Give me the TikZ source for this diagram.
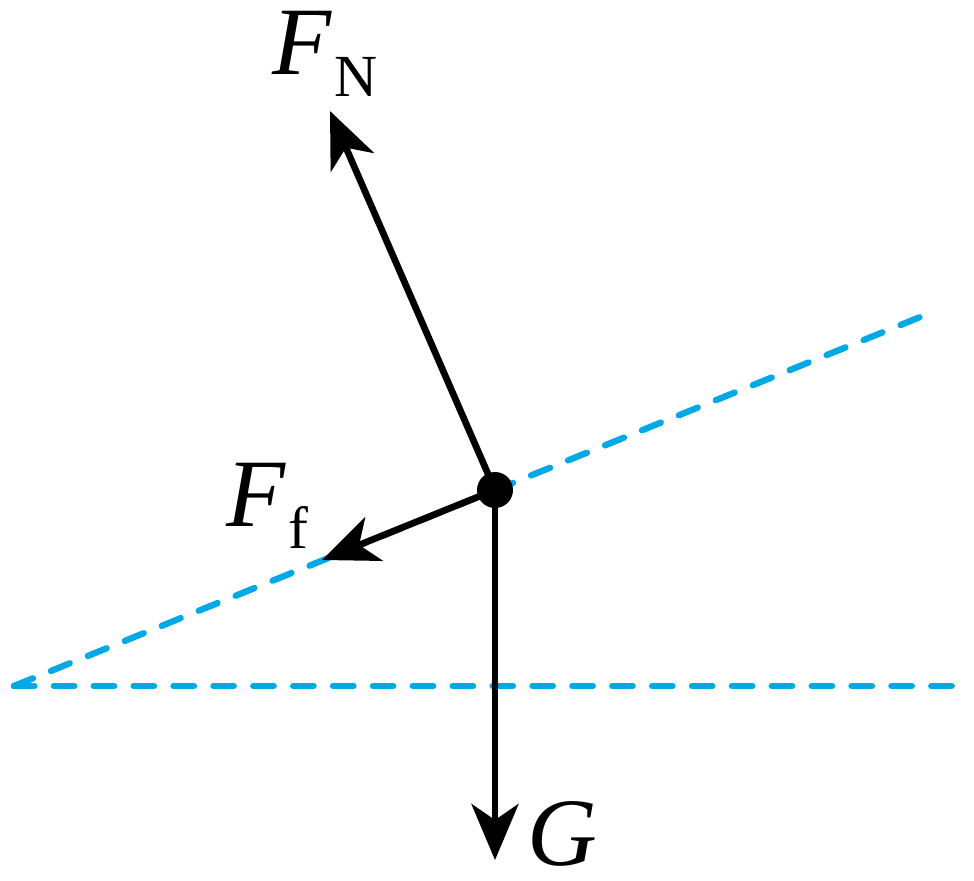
\documentclass[tikz,border=0pt]{standalone}
\usepackage{fontspec}
\setmainfont{Liberation Serif}
\usetikzlibrary{arrows.meta}
\definecolor{incl}{RGB}{0,169,230}
\tikzset{
  force/.style={line width=3.8pt, -{Stealth[length=1.12cm, width=0.94cm, inset=0.32cm]}},
  guide/.style={incl, line width=3.6pt, line cap=round, dash pattern=on 11.6pt off 11.1pt},
  lbl/.style={inner sep=0pt, font=\fontsize{55}{60}\selectfont},
}
\newcommand{\subsc}[1]{\raisebox{-13pt}{\fontsize{34}{36}\selectfont #1}}
\begin{document}
\begin{tikzpicture}[x=0.02cm,y=-0.02cm]
\useasboundingbox (0,0) rectangle (974,880);
% guides
\coordinate (o) at (14,686);
\coordinate (inclend) at (930,313);
\coordinate (horend) at (962,686);
\draw[guide] (o) -- (inclend);
\draw[guide] (o) -- (horend);
% forces
\coordinate (p) at (495,490);
\coordinate (fntip) at (330,111);
\coordinate (fftip) at (322,560);
\coordinate (gtip) at (495,860);
\draw[force] (p) -- (fntip);
\draw[force] (p) -- (fftip);
\draw[force] (p) -- (gtip);
\node[circle, fill=black, inner sep=0pt, minimum size=0.72cm] (dot) at (p) {};
% labels
\node[lbl, anchor=base west] (fn) at (272,74) {\textit{F}\kern1.5pt\subsc{N}};
\node[lbl, anchor=base west] (ff) at (226,526) {\textit{F}\kern1.5pt\subsc{f}};
\node[lbl, anchor=base west] (g) at (527,865) {\textit{G}};
\end{tikzpicture}
\end{document}
